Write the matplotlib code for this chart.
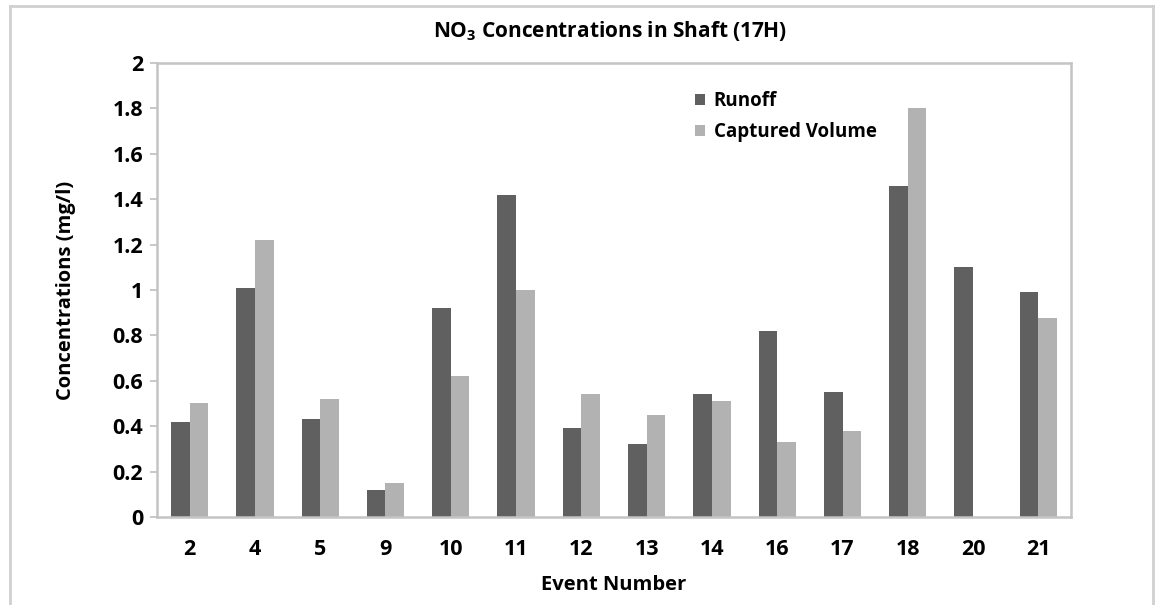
import matplotlib
matplotlib.use("Agg")
import matplotlib.pyplot as plt
import numpy as np
from matplotlib.lines import Line2D

plt.rcParams["font.family"] = ["Open Sans", "DejaVu Sans"]
plt.rcParams["font.weight"] = "bold"
plt.rcParams["mathtext.fontset"] = "custom"
plt.rcParams["mathtext.rm"] = "Open Sans:bold"
plt.rcParams["mathtext.bf"] = "Open Sans:bold"
plt.rcParams["mathtext.default"] = "bf"

events = ["2", "4", "5", "9", "10", "11", "12", "13", "14", "16", "17", "18", "20", "21"]
runoff = [0.42, 1.01, 0.43, 0.12, 0.92, 1.42, 0.39, 0.32, 0.54, 0.82, 0.55, 1.46, 1.10, 0.99]
captured = [0.50, 1.22, 0.52, 0.15, 0.62, 1.00, 0.54, 0.45, 0.51, 0.33, 0.38, 1.80, 0.0, 0.875]
y_ticks = [0, 0.2, 0.4, 0.6, 0.8, 1, 1.2, 1.4, 1.6, 1.8, 2]
y_tick_labels = ["0", "0.2", "0.4", "0.6", "0.8", "1", "1.2", "1.4", "1.6", "1.8", "2"]

fig = plt.figure(figsize=(11.55, 6.05), dpi=100)
ax = fig.add_axes([0.1359, 0.1455, 0.7914, 0.7504])

x = np.arange(len(events))
w = 0.285
ax.bar(x - w / 2, runoff, w, color="#606060", label="Runoff")
ax.bar(x + w / 2, captured, w, color="#b2b2b2", label="Captured Volume")

ax.set_xlim(-0.5, len(events) - 0.5)
ax.set_ylim(0, 2)
ax.set_yticks(y_ticks)
ax.set_yticklabels(y_tick_labels)
ax.set_xticks(x)
ax.set_xticklabels(events)
ax.tick_params(axis="y", length=5, width=1.2, color="#bfbfbf", labelsize=15.5, pad=5)
ax.tick_params(axis="x", length=0, labelsize=15.5, pad=16)
for s in ax.spines.values():
    s.set_color("#c4c4c4")
    s.set_linewidth(1.8)

ax.set_ylabel("Concentrations (mg/l)", fontsize=14.5, fontweight="bold", labelpad=26)
ax.set_xlabel("Event Number", fontsize=14.5, fontweight="bold", labelpad=11)
fig.text(0.528, 0.948, "NO$_3$ Concentrations in Shaft (17H)", ha="center", va="center",
         fontsize=15, fontweight="bold")

ax.legend(loc="upper left", bbox_to_anchor=(0.57, 0.975), frameon=False,
          handlelength=0.55, handleheight=0.55, handletextpad=0.45, labelspacing=0.6,
          prop={"weight": "bold", "size": 13.5})

# outer chart frame
fc = "#d0d0d0"
fig.add_artist(Line2D([0.0085, 0.0085], [0, 0.99], transform=fig.transFigure, color=fc, lw=2))
fig.add_artist(Line2D([0.0085, 0.998], [0.99, 0.99], transform=fig.transFigure, color=fc, lw=2))
fig.add_artist(Line2D([0.998, 0.998], [0, 0.99], transform=fig.transFigure, color=fc, lw=2))

fig.savefig("out.png", dpi=100)
